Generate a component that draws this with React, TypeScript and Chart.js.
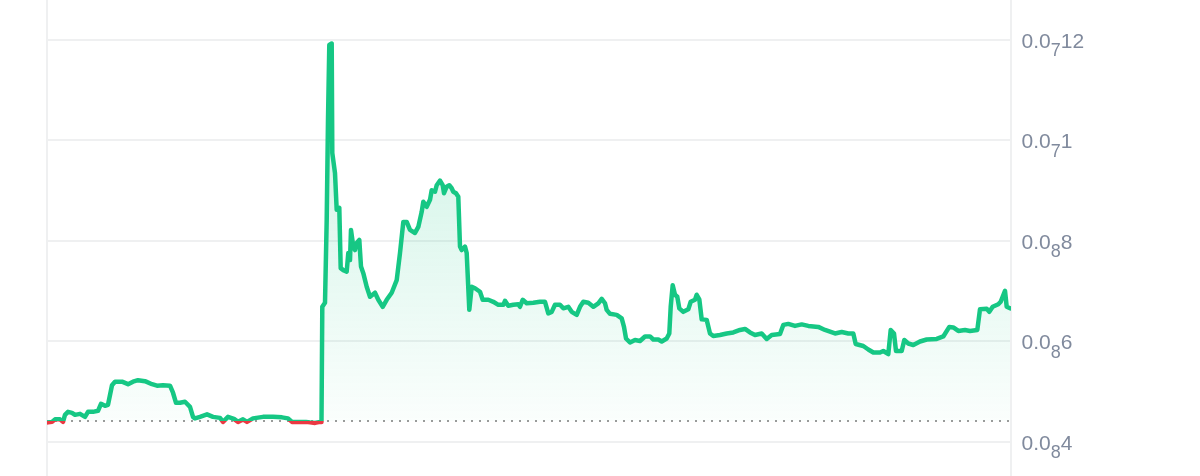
import React, { useEffect, useRef } from "react";
import { Chart, registerables } from "chart.js";

Chart.register(...registerables);

// time offsets (sample position along the period) and prices (in units of 1e-9)
const times: number[] = [
  1, 5, 8, 13, 16, 18, 21, 25, 28, 33, 38, 41, 46, 51, 54, 58, 61, 65, 68, 75,
  81, 86, 91, 98, 105, 110, 116, 123, 126, 129, 133, 138, 143, 146, 148, 153, 160, 166, 173, 176,
  181, 187, 191, 196, 200, 206, 216, 226, 235, 241, 245, 253, 259, 263, 268, 273, 274.5,
  275.3, 278, 279.7, 281, 282.3, 284.7, 285.3, 288, 289.7, 292.3, 293.7, 296.3, 299.7, 301.3, 303,
  304, 306.3, 308, 309.7, 312.3, 314, 316.3, 319.7, 323, 328, 331.3, 335.7, 339.7, 344.7, 349.7,
  353, 356.3, 359.7, 363, 368, 371.3, 374.7, 376.3, 379.7, 383, 384.7, 388, 389.7, 393, 395.7,
  397, 399.7, 402.3, 404.7, 406.3, 409, 411.3, 413, 414.7, 418, 419.7, 422.3, 424.7, 428, 433,
  435.7, 441.3, 446.3, 451.3, 456.3, 458, 461.3, 466.3, 471.3, 473, 475.7, 479.7, 486.3, 493, 498,
  501.3, 504.7, 508, 513, 516.3, 521.3, 524.7, 529.7, 533, 536.3, 541.3, 546.3, 551.3, 554.7, 558,
  559.7, 563, 569.7, 574.7, 577, 579, 583, 588, 593, 598, 603, 606.3, 611.3, 614.7, 619.7, 622.3,
  623.7, 625.7, 628, 630.3, 632.3, 636.3, 641.3, 643.7, 648, 649.7, 652.3, 654.7, 659.7, 663, 666.3,
  673, 679.7, 686.3, 693, 698, 703, 708, 714.7, 719.7, 724.7, 733, 736.3, 741.3, 748, 754.7, 761.3,
  771.3, 778, 788, 794.7, 801.3, 806.3, 808.7, 816.3, 821.3, 826.3, 833, 836.3, 841.3, 843.7, 847,
  849, 854.7, 857.3, 861.3, 866.3, 873, 879.7, 889.7, 896.3, 902.3, 906.3, 911.3, 918, 923, 930.3,
  933, 939.7, 942.3, 945.7, 951.3, 953.7, 958, 959.7, 963,
];

const prices: number[] = [
  4.39, 4.40, 4.45, 4.45, 4.40, 4.54, 4.60, 4.58, 4.54, 4.56, 4.50, 4.60, 4.60, 4.62, 4.76, 4.72, 4.74, 5.13, 5.20, 5.20,
  5.15, 5.20, 5.23, 5.21, 5.15, 5.12, 5.13, 5.12, 4.98, 4.78, 4.78, 4.80, 4.70, 4.50, 4.47, 4.50, 4.55, 4.50, 4.48, 4.40,
  4.50, 4.46, 4.40, 4.45, 4.40, 4.47, 4.50, 4.50, 4.49, 4.47, 4.40, 4.40, 4.40, 4.39, 4.38, 4.40, 4.40,
  6.69, 6.77, 8.42, 10.41, 11.90, 11.93, 9.75, 9.35, 8.62, 8.66, 7.46, 7.42, 7.39, 7.76, 7.62,
  8.22, 7.89, 7.82, 7.96, 8.02, 7.49, 7.36, 7.09, 6.89, 6.97, 6.83, 6.69, 6.83, 6.97, 7.22,
  7.76, 8.38, 8.38, 8.22, 8.16, 8.28, 8.58, 8.78, 8.68, 8.82, 9.01, 8.98, 9.11, 9.20,
  9.11, 8.95, 9.08, 9.11, 9.05, 8.98, 8.95, 8.88, 7.89, 7.82, 7.89, 7.76, 6.63, 7.09, 7.06,
  6.99, 6.83, 6.83, 6.79, 6.73, 6.73, 6.81, 6.71, 6.73, 6.74, 6.69, 6.83, 6.76, 6.77, 6.79,
  6.79, 6.56, 6.59, 6.73, 6.73, 6.66, 6.69, 6.59, 6.53, 6.69, 6.79, 6.77, 6.69, 6.76, 6.85,
  6.76, 6.63, 6.55, 6.53, 6.46, 6.29, 6.06, 5.98, 6.03, 6.01, 6.10, 6.10, 6.04, 6.04, 6.00,
  6.06, 6.16, 6.69, 7.12, 6.93, 6.89, 6.66, 6.59, 6.64, 6.79, 6.83, 6.93, 6.84, 6.44, 6.43,
  6.16, 6.11, 6.13, 6.16, 6.18, 6.23, 6.25, 6.18, 6.13, 6.16, 6.05, 6.13, 6.15, 6.33, 6.35, 6.31,
  6.34, 6.31, 6.29, 6.23, 6.16, 6.19, 6.16, 6.16, 5.95, 5.91, 5.84, 5.78, 5.78, 5.81, 5.75,
  6.23, 6.16, 5.81, 5.81, 6.03, 5.96, 5.93, 6.00, 6.04, 6.05, 6.10, 6.29, 6.28, 6.21, 6.23,
  6.21, 6.23, 6.64, 6.65, 6.59, 6.69, 6.74, 6.79, 7.01, 6.69, 6.66,
];

const yTicks: number[] = [4, 6, 8, 10, 12];
const BASELINE = 4.418;
const UNIT = 1e-9;
const X_MIN = 0;
const X_MAX = 964;
const Y_MIN = 3.323;
const Y_MAX = 12.796;

const GREEN = "#16c784";
const RED = "#ea3943";
const LABEL_COLOR = "#808a9d";
const GRID_COLOR = "#eff0f1";
const FONT = '"Liberation Sans", Arial, Helvetica, sans-serif';

function subscriptParts(v: number) {
  const p = v * UNIT;
  const zeros = Math.ceil(-Math.log10(p) - 1e-9) - 1;
  let digits = (p * Math.pow(10, zeros + 1)).toPrecision(4);
  digits = digits.replace(/0+$/, "").replace(/\.$/, "").replace(".", "");
  return { lead: "0.0", sub: String(zeros), tail: digits };
}

const labelPlugin = {
  id: "subLabels",
  afterDraw(chart: any) {
    const { ctx, chartArea, scales } = chart;
    const y = scales.y;
    ctx.save();
    ctx.fillStyle = LABEL_COLOR;
    ctx.textBaseline = "alphabetic";
    ctx.textAlign = "left";
    for (const v of yTicks) {
      const py = y.getPixelForValue(v);
      const parts = subscriptParts(v);
      let px = chartArea.right + 10.5;
      ctx.font = `21px ${FONT}`;
      ctx.fillText(parts.lead, px, py + 8);
      px += ctx.measureText(parts.lead).width;
      ctx.font = `18px ${FONT}`;
      ctx.fillText(parts.sub, px, py + 16.5);
      px += ctx.measureText(parts.sub).width;
      ctx.font = `21px ${FONT}`;
      ctx.fillText(parts.tail, px, py + 8);
    }
    ctx.restore();
  },
};

export default function App() {
  const ref = useRef<HTMLCanvasElement | null>(null);

  useEffect(() => {
    const canvas = ref.current;
    if (!canvas) return;
    const chart = new Chart(canvas, {
      type: "line",
      data: {
        datasets: [
          {
            data: times.map((t, i) => ({ x: t, y: prices[i] })),
            borderColor: (c: any) => {
              const { chart } = c;
              const area = chart.chartArea;
              if (!area) return GREEN;
              const yb = chart.scales.y.getPixelForValue(BASELINE);
              const f = (yb - area.top) / (area.bottom - area.top);
              const g = chart.ctx.createLinearGradient(0, area.top, 0, area.bottom);
              g.addColorStop(0, GREEN);
              g.addColorStop(f, GREEN);
              g.addColorStop(Math.min(1, f + 0.0001), RED);
              g.addColorStop(1, RED);
              return g;
            },
            borderWidth: 4.5,
            borderJoinStyle: "round",
            borderCapStyle: "round",
            pointRadius: 0,
            tension: 0,
            order: 1,
            fill: { value: BASELINE, below: "rgba(234,57,67,0.04)" } as any,
            backgroundColor: (c: any) => {
              const { chart } = c;
              const area = chart.chartArea;
              if (!area) return "rgba(22,199,132,0.1)";
              const yb = chart.scales.y.getPixelForValue(BASELINE);
              const g = chart.ctx.createLinearGradient(0, area.top, 0, yb);
              g.addColorStop(0, "rgba(22,199,132,0.26)");
              g.addColorStop(1, "rgba(22,199,132,0.02)");
              return g;
            },
          } as any,
          {
            data: [
              { x: X_MIN, y: BASELINE },
              { x: X_MAX, y: BASELINE },
            ],
            borderColor: "#9b9b9b",
            borderWidth: 2,
            borderDash: [2, 6],
            pointRadius: 0,
            fill: false,
            order: 2,
          } as any,
        ],
      },
      options: {
        animation: false,
        responsive: false,
        maintainAspectRatio: false,
        devicePixelRatio: 1,
        layout: { padding: { left: 47, right: 189, top: 0, bottom: 0 } },
        plugins: { legend: { display: false }, tooltip: { enabled: false } },
        scales: {
          x: {
            type: "linear",
            min: X_MIN,
            max: X_MAX,
            afterBuildTicks: (s: any) => {
              s.ticks = [{ value: X_MIN }, { value: X_MAX }];
            },
            ticks: { display: false },
            grid: { color: GRID_COLOR, lineWidth: 2, drawTicks: false },
            border: { display: false },
          },
          y: {
            position: "right",
            min: Y_MIN,
            max: Y_MAX,
            afterBuildTicks: (s: any) => {
              s.ticks = yTicks.map((v) => ({ value: v }));
            },
            ticks: { display: false },
            grid: { color: GRID_COLOR, lineWidth: 2, drawTicks: false },
            border: { display: false },
          },
        },
      } as any,
      plugins: [labelPlugin],
    });
    return () => chart.destroy();
  }, []);

  return (
    <div style={{ position: "fixed", left: 0, top: 0, width: 1200, height: 476, background: "#fff" }}>
      <canvas ref={ref} width={1200} height={476} style={{ display: "block", width: 1200, height: 476 }} />
    </div>
  );
}
